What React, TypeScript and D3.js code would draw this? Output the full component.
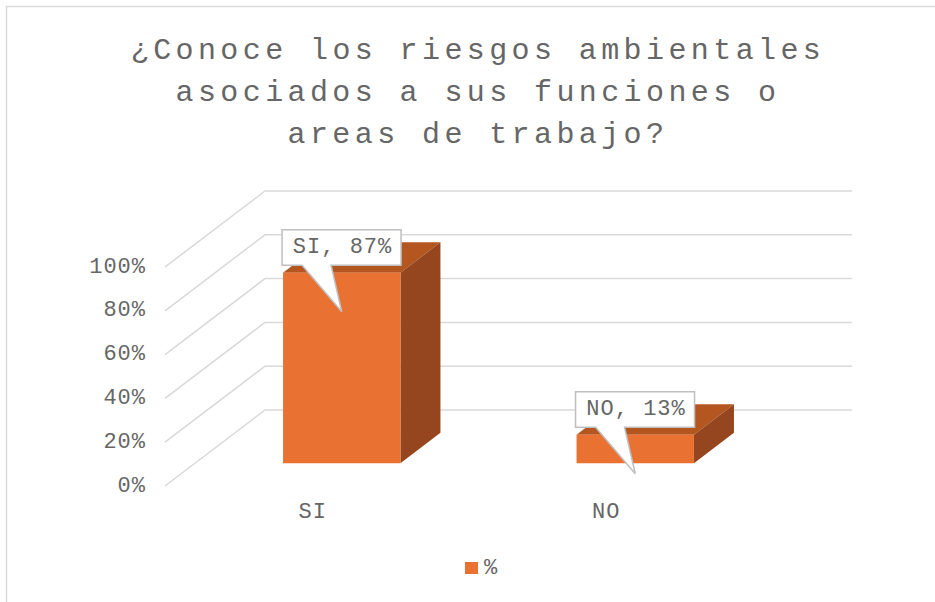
import React from "react";
import * as d3 from "d3";

// data
const categories = ["SI", "NO"];
const values = [0.87, 0.13];
const ticks = [0, 0.2, 0.4, 0.6, 0.8, 1];
const titleLines = [
  "¿Conoce los riesgos ambientales",
  "asociados a sus funciones o",
  "areas de trabajo?",
];
const seriesName = "%";

const W = 935;
const H = 602;
const FONT = "'Courier New', 'Liberation Mono', monospace";
const TEXT = "#666666";

// 3D-ish projection: front floor starts at x0, depth pushes right/up
const x0 = 165;
const floorW = 587;
const DX = 100;
const DY = -76;
const zFront = 0.3;
const zBack = 0.7;

export default function App() {
  const y = d3.scaleLinear().domain([0, 1]).range([486, 267]);
  const x = d3.scaleBand().domain(categories).range([0, floorW]);
  const barW = x.bandwidth() * 0.4;
  const fmt = d3.format(".0%");

  const proj = (xf: number, v: number, z: number): [number, number] => [
    x0 + xf + DX * z,
    y(v) + DY * z,
  ];
  const poly = (pts: [number, number][]) =>
    pts.map((p) => p.join(",")).join(" ");

  return (
    <svg
      width={W}
      height={H}
      style={{ position: "absolute", left: 0, top: 0, background: "#fff" }}
      fontFamily={FONT}
    >
      <rect x={6.5} y={6.5} width={W} height={H} fill="#fff" stroke="#d9d9d9" strokeWidth={1.5} />

      {titleLines.map((t, i) => (
        <text
          key={i}
          x={478}
          y={59 + i * 42}
          textAnchor="middle"
          fontSize={30}
          letterSpacing={4.4}
          fill={TEXT}
        >
          {t}
        </text>
      ))}

      {/* gridlines: side wall + back wall */}
      {ticks.map((t) => {
        const a = proj(0, t, 0);
        const b = proj(0, t, 1);
        const c = proj(floorW, t, 1);
        return (
          <polyline
            key={t}
            points={poly([a, b, c])}
            fill="none"
            stroke="#d9d9d9"
            strokeWidth={1.5}
          />
        );
      })}

      {ticks.map((t) => (
        <text
          key={"l" + t}
          x={146}
          y={y(t)}
          textAnchor="end"
          dominantBaseline="central"
          fontSize={22}
          letterSpacing={1}
          fill={TEXT}
        >
          {fmt(t)}
        </text>
      ))}

      {categories.map((c, i) => {
        const xl = x(c)! + (x.bandwidth() - barW) / 2;
        const xr = xl + barW;
        const v = values[i];
        const front = [proj(xl, 0, zFront), proj(xr, 0, zFront), proj(xr, v, zFront), proj(xl, v, zFront)];
        const top = [proj(xl, v, zFront), proj(xr, v, zFront), proj(xr, v, zBack), proj(xl, v, zBack)];
        const side = [proj(xr, 0, zFront), proj(xr, v, zFront), proj(xr, v, zBack), proj(xr, 0, zBack)];
        return (
          <g key={c}>
            <polygon points={poly(top)} fill="#b4561f" />
            <polygon points={poly(side)} fill="#95461f" />
            <polygon points={poly(front)} fill="#e97132" />
          </g>
        );
      })}

      {/* category labels at the front floor edge */}
      {categories.map((c) => {
        const [lx, ly] = proj(x(c)! + x.bandwidth() / 2, 0, 0);
        return (
          <text
            key={"c" + c}
            x={lx + 1}
            y={ly + 26}
            textAnchor="middle"
            dominantBaseline="central"
            fontSize={22}
            letterSpacing={1}
            fill={TEXT}
          >
            {c}
          </text>
        );
      })}

      {/* callout data labels */}
      {categories.map((c, i) => {
        const xl = x(c)! + (x.bandwidth() - barW) / 2;
        const [fx, fy] = proj(xl, values[i], zFront);
        const cx = fx + barW / 2;
        const l = fx - 1;
        const r = l + 119;
        const t = fy - 43;
        const b = fy - 7.5;
        const d = `M${l},${t}H${r}V${b}H${l + 49}L${cx},${fy + 39}L${l + 20},${b}H${l}Z`;
        return (
          <g key={"d" + c}>
            <path d={d} fill="#fff" stroke="#bfbfbf" strokeWidth={1.5} />
            <text
              x={(l + r) / 2 + 1}
              y={(t + b) / 2}
              textAnchor="middle"
              dominantBaseline="central"
              fontSize={22}
              letterSpacing={1}
              fill={TEXT}
            >
              {`${c}, ${fmt(values[i])}`}
            </text>
          </g>
        );
      })}

      {/* legend */}
      <rect x={465} y={562} width={13} height={12} fill="#e97132" />
      <text x={484} y={568} dominantBaseline="central" fontSize={22} fill={TEXT}>
        {seriesName}
      </text>
    </svg>
  );
}
